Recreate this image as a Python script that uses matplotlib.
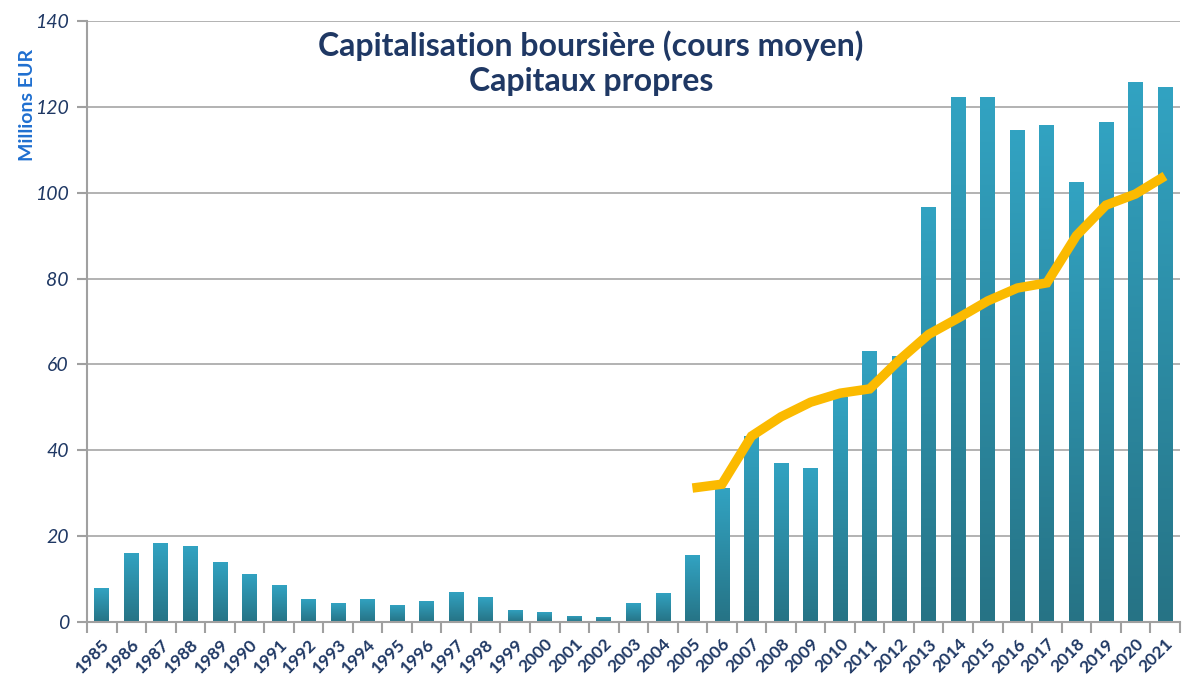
import matplotlib
matplotlib.use("Agg")
import matplotlib.pyplot as plt
import numpy as np
from matplotlib.colors import LinearSegmentedColormap

years = [str(y) for y in range(1985, 2022)]
capitalisation = [7.9, 16.1, 18.4, 17.7, 14.0, 11.2, 8.6, 5.4, 4.4, 5.4,
                  4.0, 4.9, 7.0, 5.8, 2.8, 2.3, 1.4, 1.2, 4.4, 6.8,
                  15.6, 31.2, 43.3, 37.0, 35.9, 52.4, 63.1, 62.0, 96.7, 122.3,
                  122.3, 114.6, 115.8, 102.5, 116.5, 125.8, 124.6]
fonds_years = [str(y) for y in range(2005, 2022)]
capitaux_propres = [31.2, 32.1, 43.3, 47.8, 51.2, 53.3, 54.3, 61.0, 67.0, 70.8,
                    74.8, 77.8, 79.0, 90.0, 97.1, 99.7, 103.9]

navy = "#1f3864"
plt.rcParams["font.family"] = ["Lato", "DejaVu Sans"]

fig = plt.figure(figsize=(11.82, 6.79), dpi=100)
ax = fig.add_axes([0.0736, 0.084, 0.9245, 0.885])

x = np.arange(len(years))
bars = ax.bar(x, capitalisation, width=0.5, color="none", edgecolor="none", zorder=2)

# vertical gradient per bar, light at top, dark at bottom
cmap = LinearSegmentedColormap.from_list("bar", ["#267385", "#32a3c2"])
grad = np.linspace(0, 1, 256).reshape(-1, 1)
for b in bars:
    x0, w, h = b.get_x(), b.get_width(), b.get_height()
    im = ax.imshow(grad, cmap=cmap, aspect="auto", origin="lower",
                   extent=(x0, x0 + w, 0, h), zorder=2)
    im.set_clip_path(b)

xl = [years.index(y) for y in fonds_years]
ax.plot(xl, capitaux_propres, color="#fbba00", lw=6.8, zorder=3,
        solid_joinstyle="miter", solid_capstyle="butt")

ax.set_xlim(-0.5, len(years) - 0.5)
ax.set_ylim(0, 140)
ax.set_yticks(range(0, 141, 20))
ax.grid(axis="y", color="#a6a6a6", lw=1.2, zorder=0)
ax.set_axisbelow(True)

for s in ("top", "right"):
    ax.spines[s].set_visible(False)
for s in ("left", "bottom"):
    ax.spines[s].set_color("#a0a0a0")
    ax.spines[s].set_linewidth(1.5)

ax.set_xticks(x)
ax.set_xticklabels(years, rotation=45, ha="right", rotation_mode="anchor",
                   fontsize=12.5, fontweight="bold", color=navy)
ax.set_xticks(np.arange(-0.5, len(years), 1), minor=True)
ax.tick_params(axis="x", which="major", length=0, pad=10)
ax.tick_params(axis="x", which="minor", length=8, width=1.5, color="#a0a0a0")
ax.tick_params(axis="y", length=7, width=1.5, color="#a0a0a0", pad=6)
for t in ax.get_yticklabels():
    t.set_fontsize(14)
    t.set_fontstyle("italic")
    t.set_color(navy)

ax.set_ylabel("Millions EUR", fontsize=14, fontweight="bold", color="#1f6fd0")
ax.yaxis.set_label_coords(-0.047, 0.86)

fig.text(0.5, 0.955, "Capitalisation boursière (cours moyen)\nCapitaux propres",
         ha="center", va="top", fontsize=23, fontweight="bold", color=navy,
         linespacing=1.25)

fig.savefig("out.png", dpi=100)
